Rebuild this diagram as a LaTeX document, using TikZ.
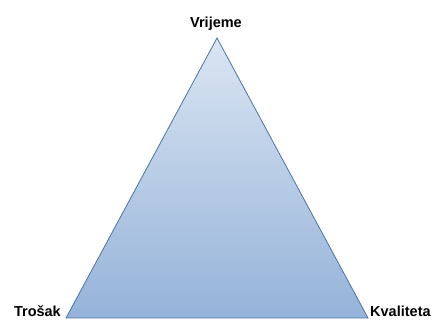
\documentclass[tikz,border=0pt]{standalone}
\usepackage{fontspec}
\setmainfont{Liberation Sans}
\begin{document}
\begin{tikzpicture}[x=1pt,y=1pt,
  lbl/.style={font=\fontsize{14.5}{16}\selectfont\bfseries, inner sep=0pt},
  tri/.style={draw=triline, line width=0.8pt, top color=tritop, bottom color=tribot, line join=miter}]
\definecolor{triline}{HTML}{4A72A8}
\definecolor{tritop}{HTML}{DAE5F2}
\definecolor{tribot}{HTML}{95B3D9}
\useasboundingbox (0,0) rectangle (435,320);
\coordinate (apex) at (217,282);
\coordinate (left) at (66,2);
\coordinate (right) at (368,2);
\path[tri] (apex) -- (left) -- (right) -- cycle;
\node[lbl, anchor=base] (vrijeme) at (216,292) {Vrijeme};
\node[lbl, anchor=base east] (trosak) at (61,3) {Trošak};
\node[lbl, anchor=base west] (kvaliteta) at (370,3) {Kvaliteta};
\end{tikzpicture}
\end{document}
